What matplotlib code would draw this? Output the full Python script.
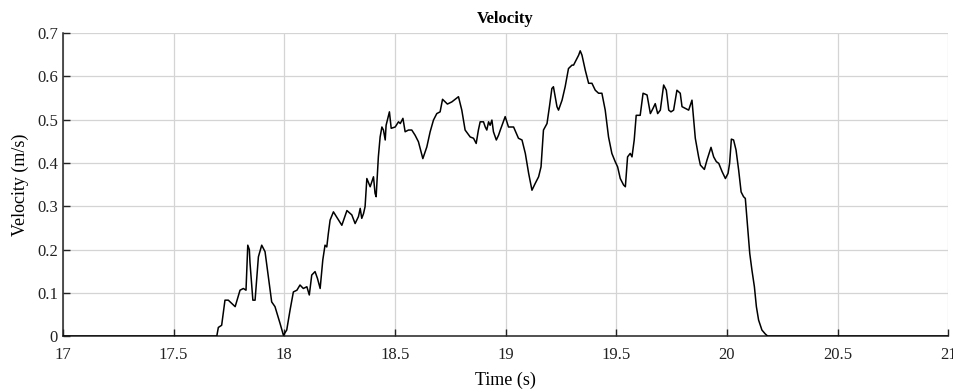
import numpy as np
import matplotlib.pyplot as plt

plt.rcParams['font.family'] = ['Liberation Serif', 'DejaVu Serif']

# Velocity trace (time in s, velocity in m/s)
time_s = [17.0, 17.695, 17.702, 17.717, 17.732, 17.747, 17.778, 17.800, 17.815, 17.827,
          17.835, 17.842, 17.845, 17.858, 17.868, 17.883, 17.898, 17.913, 17.928, 17.943,
          17.958, 17.981, 17.996, 18.011, 18.026, 18.041, 18.057, 18.071, 18.086, 18.102,
          18.113, 18.124, 18.139, 18.150, 18.162, 18.174, 18.184, 18.192, 18.199, 18.207,
          18.222, 18.245, 18.260, 18.283, 18.305, 18.320, 18.335, 18.343, 18.350, 18.358,
          18.365, 18.373, 18.388, 18.403, 18.410, 18.415, 18.425, 18.433, 18.441, 18.448,
          18.456, 18.460, 18.466, 18.475, 18.483, 18.501, 18.516, 18.524, 18.536, 18.546,
          18.561, 18.576, 18.591, 18.606, 18.626, 18.644, 18.659, 18.674, 18.689, 18.704,
          18.715, 18.727, 18.737, 18.757, 18.787, 18.802, 18.817, 18.840, 18.855, 18.867,
          18.877, 18.885, 18.900, 18.908, 18.915, 18.923, 18.930, 18.938, 18.945, 18.958,
          18.968, 18.976, 18.998, 19.013, 19.036, 19.058, 19.074, 19.089, 19.104, 19.119,
          19.134, 19.149, 19.160, 19.171, 19.187, 19.198, 19.209, 19.216, 19.224, 19.232,
          19.239, 19.255, 19.269, 19.284, 19.300, 19.307, 19.319, 19.330, 19.337, 19.345,
          19.360, 19.375, 19.390, 19.405, 19.420, 19.435, 19.450, 19.465, 19.480, 19.495,
          19.506, 19.518, 19.533, 19.541, 19.551, 19.563, 19.571, 19.581, 19.590, 19.608,
          19.621, 19.639, 19.654, 19.666, 19.676, 19.687, 19.699, 19.714, 19.726, 19.737,
          19.747, 19.759, 19.774, 19.789, 19.797, 19.812, 19.827, 19.842, 19.850, 19.857,
          19.872, 19.880, 19.898, 19.910, 19.928, 19.940, 19.952, 19.963, 19.978, 19.993,
          20.005, 20.012, 20.020, 20.030, 20.041, 20.053, 20.064, 20.075, 20.083, 20.091,
          20.103, 20.113, 20.124, 20.133, 20.143, 20.158, 20.173, 20.184, 21.0]
velocity = [0.0, 0.0, 0.02, 0.025, 0.083, 0.083, 0.068, 0.106, 0.11, 0.106,
            0.21, 0.2, 0.17, 0.083, 0.083, 0.183, 0.21, 0.195, 0.137, 0.079,
            0.068, 0.029, 0.002, 0.014, 0.06, 0.102, 0.106, 0.118, 0.11, 0.114,
            0.095, 0.141, 0.149, 0.133, 0.11, 0.176, 0.21, 0.206, 0.237, 0.268,
            0.287, 0.268, 0.256, 0.29, 0.28, 0.26, 0.276, 0.295, 0.272, 0.283,
            0.299, 0.364, 0.345, 0.368, 0.33, 0.322, 0.414, 0.46, 0.483, 0.476,
            0.453, 0.487, 0.499, 0.518, 0.48, 0.483, 0.495, 0.491, 0.503, 0.472,
            0.476, 0.476, 0.464, 0.449, 0.41, 0.437, 0.472, 0.499, 0.514, 0.518,
            0.547, 0.541, 0.536, 0.541, 0.553, 0.522, 0.476, 0.46, 0.457, 0.445,
            0.476, 0.495, 0.495, 0.483, 0.476, 0.495, 0.487, 0.499, 0.472, 0.453,
            0.464, 0.476, 0.507, 0.483, 0.483, 0.457, 0.453, 0.422, 0.376, 0.337,
            0.353, 0.368, 0.391, 0.476, 0.491, 0.53, 0.572, 0.576, 0.553, 0.53,
            0.522, 0.545, 0.576, 0.618, 0.626, 0.626, 0.638, 0.649, 0.659, 0.649,
            0.614, 0.584, 0.584, 0.568, 0.561, 0.561, 0.522, 0.46, 0.422, 0.403,
            0.391, 0.364, 0.349, 0.345, 0.414, 0.422, 0.414, 0.453, 0.51, 0.51,
            0.561, 0.557, 0.514, 0.526, 0.537, 0.514, 0.522, 0.58, 0.568, 0.522,
            0.518, 0.522, 0.568, 0.561, 0.53, 0.526, 0.522, 0.545, 0.499, 0.457,
            0.414, 0.395, 0.385, 0.407, 0.436, 0.414, 0.403, 0.399, 0.38, 0.364,
            0.376, 0.399, 0.455, 0.453, 0.43, 0.383, 0.333, 0.322, 0.318, 0.268,
            0.191, 0.152, 0.114, 0.068, 0.037, 0.014, 0.005, 0.0, 0.0]

x_ticks = [17, 17.5, 18, 18.5, 19, 19.5, 20, 20.5, 21]
x_tick_labels = ['17', '17.5', '18', '18.5', '19', '19.5', '20', '20.5', '21']
y_ticks = [0, 0.1, 0.2, 0.3, 0.4, 0.5, 0.6, 0.7]
y_tick_labels = ['0', '0.1', '0.2', '0.3', '0.4', '0.5', '0.6', '0.7']

fig = plt.figure(figsize=(9.54, 3.89), dpi=100)
ax = fig.add_axes([0.066, 0.136, 0.928, 0.779])
ax.plot(time_s, velocity, color='black', linewidth=1.1, zorder=3)

ax.set_xlim(17, 21)
ax.set_ylim(0, 0.7)
ax.set_xticks(x_ticks)
ax.set_xticklabels(x_tick_labels)
ax.set_yticks(y_ticks)
ax.set_yticklabels(y_tick_labels)
ax.grid(True, color='#d4d4d4', linewidth=0.9)
ax.set_axisbelow(True)
ax.tick_params(direction='in', length=5, width=1, labelsize=12, colors='#222222')
ax.tick_params(axis='x', pad=8)
for side in ['top', 'right']:
    ax.spines[side].set_visible(False)
for side in ['left', 'bottom']:
    ax.spines[side].set_linewidth(1.1)
    ax.spines[side].set_color('#222222')

ax.set_title('Velocity', fontsize=12, fontweight='bold', pad=7)
ax.set_xlabel('Time (s)', fontsize=13, labelpad=6)
ax.set_ylabel('Velocity (m/s)', fontsize=13, labelpad=6)

fig.savefig('out.png', dpi=100)
